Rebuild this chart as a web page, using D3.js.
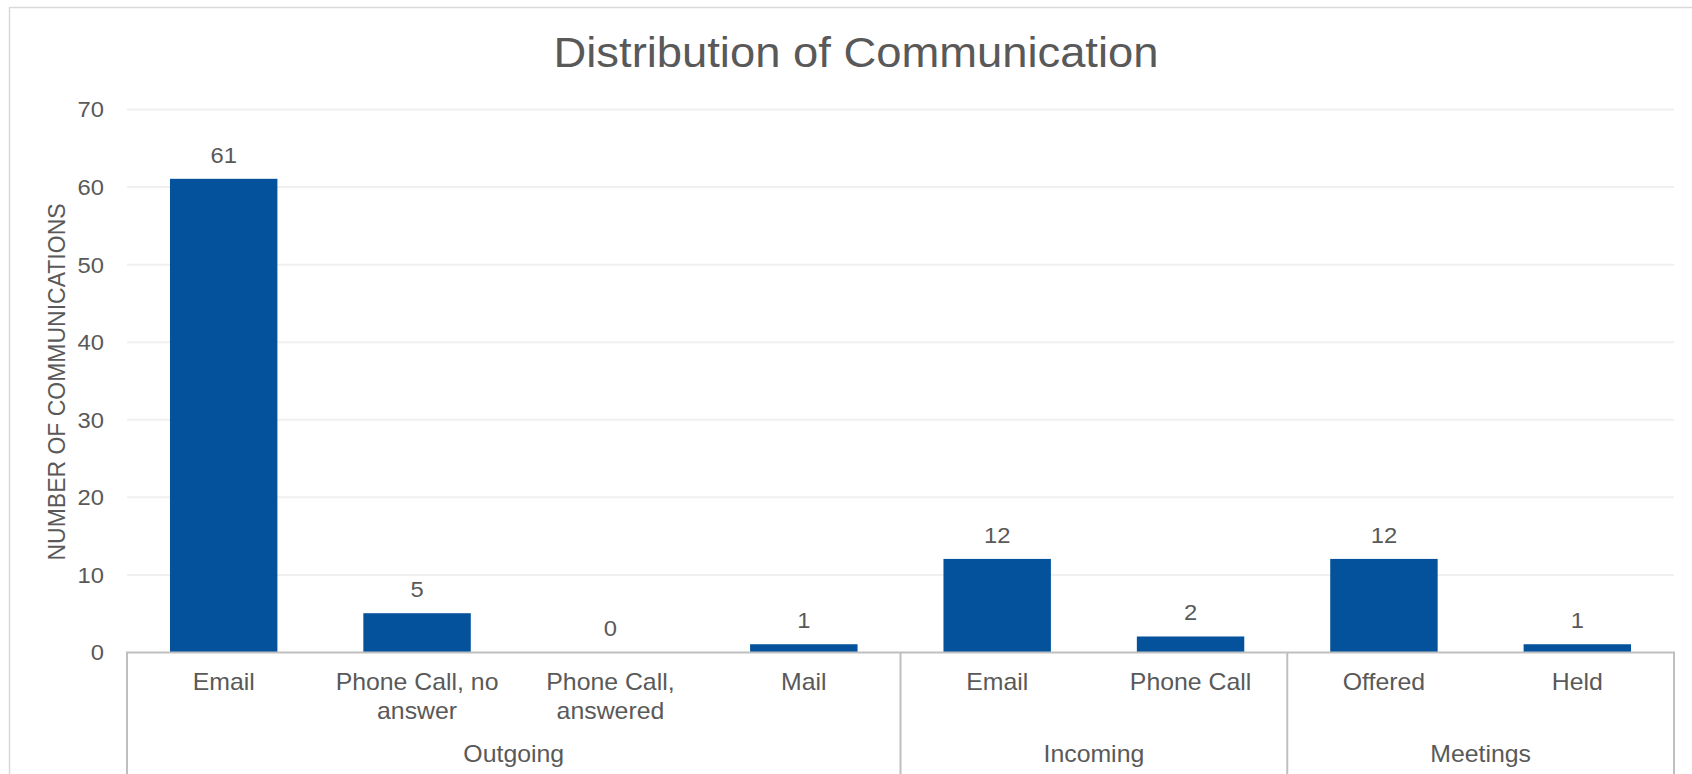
<!DOCTYPE html>
<html>
<head>
<meta charset="utf-8">
<script src="https://cdn.jsdelivr.net/npm/d3@7"></script>
<style>
  html, body { margin: 0; padding: 0; background: #ffffff; overflow: hidden; }
  svg { display: block; }
  text { font-family: "Liberation Sans", Arial, sans-serif; fill: #595959; }
</style>
</head>
<body>
<svg id="chart" width="1692" height="774"></svg>
<script>
// Chart data
const categoryKeys = ["out-email", "out-noanswer", "out-answered", "out-mail", "in-email", "in-phone", "meet-offered", "meet-held"];
const categoryLines = [["Email"], ["Phone Call, no", "answer"], ["Phone Call,", "answered"], ["Mail"], ["Email"], ["Phone Call"], ["Offered"], ["Held"]];
const values = [61, 5, 0, 1, 12, 2, 12, 1];
const groupNames = ["Outgoing", "Incoming", "Meetings"];
const groupSizes = [4, 2, 2];
const yTicks = [0, 10, 20, 30, 40, 50, 60, 70];
const chartTitle = "Distribution of Communication";
const yAxisTitle = "NUMBER OF COMMUNICATIONS";

const W = 1692, H = 774;
const plot = { left: 127, right: 1674, top: 109, bottom: 652 };
const barColor = "#04529c";
const textStretch = 1.08; // glyphs are set slightly wide

const svg = d3.select("#chart");

const x = d3.scaleBand().domain(categoryKeys).range([plot.left, plot.right]).padding(0);
const y = d3.scaleLinear().domain([0, 70]).range([plot.bottom, plot.top]);
const barW = x.bandwidth() / 1.8; // 80% gap width

// Outer chart frame (continues past the window edges)
svg.append("rect")
  .attr("x", 9.5).attr("y", 7.5)
  .attr("width", W + 20).attr("height", H + 20)
  .attr("fill", "none").attr("stroke", "#d9d9d9").attr("stroke-width", 1.5);

function stretchedText(sel, tx, ty, extra) {
  return sel.attr("transform", `translate(${tx},${ty}) scale(${textStretch},1)` + (extra || ""));
}

// Title
stretchedText(svg.append("text"), 856, 67)
  .attr("text-anchor", "middle")
  .style("font-size", "42px")
  .text(chartTitle);

// Gridlines
const yAxis = d3.axisLeft(y).tickValues(yTicks).tickSize(-(plot.right - plot.left)).tickFormat(d3.format("d"));
const gy = svg.append("g").attr("transform", `translate(${plot.left},0)`).call(yAxis);
gy.select(".domain").remove();
gy.selectAll(".tick line").attr("stroke", "#f0f0f0").attr("stroke-width", 2)
  .attr("display", d => d === 0 ? "none" : null);
gy.selectAll(".tick text").each(function (d) {
  const t = d3.select(this);
  t.attr("x", null).attr("dy", null).attr("text-anchor", "end")
   .style("font-size", "22px").style("font-family", null).attr("fill", "#595959");
  t.attr("transform", `translate(-23,7.9) scale(${textStretch},1)`);
});
gy.attr("font-family", null).attr("font-size", null);

// Y axis title
svg.append("text")
  .attr("transform", `translate(65,382) scale(${textStretch},1) rotate(-90)`)
  .attr("text-anchor", "middle")
  .style("font-size", "23px")
  .text(yAxisTitle);

// Bars
const data = categoryKeys.map((k, i) => ({ key: k, value: values[i], lines: categoryLines[i] }));
svg.append("g").selectAll("rect").data(data).join("rect")
  .attr("x", d => x(d.key) + (x.bandwidth() - barW) / 2)
  .attr("y", d => y(d.value))
  .attr("width", barW)
  .attr("height", d => y(0) - y(d.value))
  .attr("fill", barColor);

// Data labels
svg.append("g").selectAll("text").data(data).join("text")
  .attr("text-anchor", "middle")
  .style("font-size", "22px")
  .each(function (d) {
    stretchedText(d3.select(this), x(d.key) + x.bandwidth() / 2, y(d.value) - 16);
  })
  .text(d => d.value);

// Category axis line
svg.append("line")
  .attr("x1", plot.left - 1).attr("x2", plot.right + 1)
  .attr("y1", y(0) + 0.5).attr("y2", y(0) + 0.5)
  .attr("stroke", "#bfbfbf").attr("stroke-width", 2);

// Category labels
const catG = svg.append("g");
data.forEach(d => {
  d.lines.forEach((ln, j) => {
    stretchedText(catG.append("text"), x(d.key) + x.bandwidth() / 2, 690 + j * 28.5)
      .attr("text-anchor", "middle")
      .style("font-size", "23px")
      .text(ln);
  });
});

// Group dividers and labels
let start = 0;
const dividerX = [plot.left];
groupNames.forEach((g, i) => {
  const first = categoryKeys[start];
  const last = categoryKeys[start + groupSizes[i] - 1];
  const x0 = x(first), x1 = x(last) + x.bandwidth();
  dividerX.push(x1);
  stretchedText(svg.append("text"), (x0 + x1) / 2, 762)
    .attr("text-anchor", "middle")
    .style("font-size", "23px")
    .text(g);
  start += groupSizes[i];
});
svg.append("g").selectAll("line").data(dividerX).join("line")
  .attr("x1", d => d).attr("x2", d => d)
  .attr("y1", y(0)).attr("y2", H + 5)
  .attr("stroke", "#bfbfbf").attr("stroke-width", 2);
</script>
</body>
</html>
